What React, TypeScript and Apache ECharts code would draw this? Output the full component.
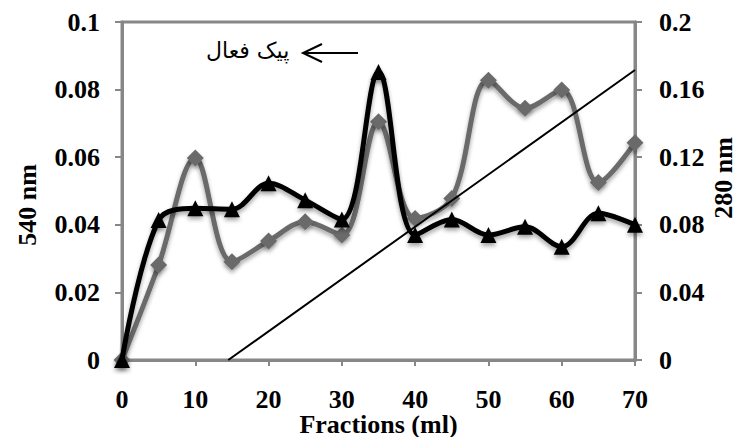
import React, { useEffect, useRef } from "react";
import * as echarts from "echarts";

const fractions = [0, 5, 10, 15, 20, 25, 30, 35, 40, 45, 50, 55, 60, 65, 70];
const gray540 = [0, 0.0281, 0.0598, 0.0291, 0.0352, 0.0409, 0.037, 0.0705, 0.0419, 0.0478, 0.0828, 0.0745, 0.0799, 0.0525, 0.0643];
const black280 = [0, 0.0414, 0.0449, 0.0446, 0.0523, 0.0473, 0.0416, 0.0852, 0.037, 0.0416, 0.037, 0.0394, 0.0335, 0.0434, 0.04];
const gradientX = [14.5, 70];
const gradientY = [0, 0.0858];
const annotation = "پیک فعال";
const xName = "Fractions (ml)";
const leftName = "540 nm";
const rightName = "280 nm";

const FONT = "Liberation Serif";
const AX = "#878787";

export default function App() {
  const ref = useRef<HTMLDivElement>(null);
  useEffect(() => {
    if (!ref.current) return;
    const chart = echarts.init(ref.current, undefined, { renderer: "svg" });
    const shadow = { shadowColor: "rgba(0,0,0,0.35)", shadowBlur: 4, shadowOffsetY: 3 };
    const labelStyle = { fontFamily: FONT, fontWeight: "bold" as const, fontSize: 26, color: "#000" };
    chart.setOption({
      animation: false,
      backgroundColor: "#fff",
      textStyle: { fontFamily: FONT },
      grid: {
        left: 122, right: 103, top: 22, bottom: 77, show: true, borderColor: AX, borderWidth: 3,
        backgroundColor: "transparent", containLabel: false, outerBoundsMode: "none",
      },
      xAxis: {
        type: "value", min: 0, max: 70, interval: 10,
        name: xName, nameLocation: "middle", nameGap: 51, nameMoveOverlap: false,
        nameTextStyle: { ...labelStyle },
        axisLine: { show: true, lineStyle: { color: AX, width: 3 } },
        axisTick: { show: true, length: 6, lineStyle: { color: AX, width: 2 } },
        axisLabel: { ...labelStyle, margin: 26 },
        splitLine: { show: false },
      },
      yAxis: [
        {
          type: "value", min: 0, max: 0.1, interval: 0.02, position: "left",
          name: leftName, nameLocation: "middle", nameGap: 82, nameRotate: 90, nameMoveOverlap: false,
          nameTextStyle: { ...labelStyle, padding: [0, 28, 0, 0] },
          axisLine: { show: true, lineStyle: { color: AX, width: 3 } },
          axisTick: { show: true, length: 7, lineStyle: { color: AX, width: 2 } },
          axisLabel: { ...labelStyle, margin: 22 },
          splitLine: { show: false },
        },
        {
          type: "value", min: 0, max: 0.2, interval: 0.04, position: "right",
          name: rightName, nameLocation: "middle", nameGap: 75, nameRotate: 90, nameMoveOverlap: false,
          nameTextStyle: { ...labelStyle, padding: [0, 0, 0, 26] },
          axisLine: { show: true, lineStyle: { color: AX, width: 3 } },
          axisTick: { show: true, length: 7, lineStyle: { color: AX, width: 2 } },
          axisLabel: { ...labelStyle, margin: 24 },
          splitLine: { show: false },
        },
      ],
      series: [
        {
          type: "line", yAxisIndex: 0, smooth: 0.35,
          data: fractions.map((x, i) => [x, gray540[i]]),
          symbol: "diamond", symbolSize: 17,
          lineStyle: { color: "#6b6b6b", width: 5, ...shadow },
          itemStyle: { color: "#6b6b6b", ...shadow },
          z: 2,
        },
        {
          type: "line", yAxisIndex: 0, smooth: 0.35,
          data: fractions.map((x, i) => [x, black280[i]]),
          symbol: "triangle", symbolSize: 16,
          lineStyle: { color: "#000", width: 5, ...shadow },
          itemStyle: { color: "#000", ...shadow },
          z: 3,
        },
        {
          type: "line", yAxisIndex: 0,
          data: gradientX.map((x, i) => [x, gradientY[i]]),
          symbol: "none",
          lineStyle: { color: "#000", width: 2 },
          z: 4,
        },
      ],
      graphic: [
        {
          type: "text", left: 206, top: 39,
          style: { text: annotation, fontFamily: "DejaVu Sans", fontSize: 22, fill: "#000" },
        },
        { type: "line", shape: { x1: 303, y1: 53, x2: 358, y2: 53 }, style: { stroke: "#000", lineWidth: 2 } },
        { type: "polyline", shape: { points: [[322, 44], [303, 53], [322, 62]] }, style: { stroke: "#000", lineWidth: 2, fill: "none" } },
      ],
    });
    return () => chart.dispose();
  }, []);
  return <div ref={ref} style={{ position: "absolute", left: 0, top: 0, width: 738, height: 437 }} />;
}
